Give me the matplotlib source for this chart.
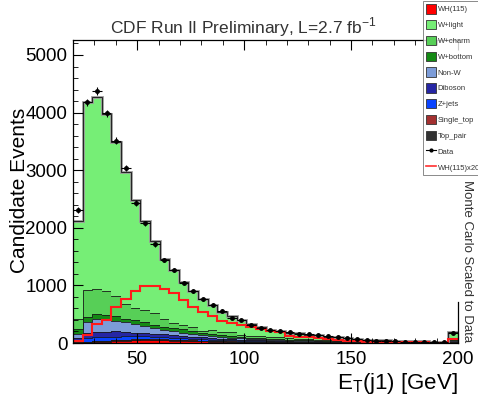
import numpy as np
import matplotlib
matplotlib.use('Agg')
import matplotlib.pyplot as plt
from matplotlib.patches import Patch
from matplotlib.lines import Line2D

plt.rcParams['font.family'] = ['Liberation Sans', 'DejaVu Sans']

# 40 bins of 4.5 GeV from 20 to 200 (last bin holds the overflow)
bin_lo, bin_hi, n_bins = 20.0, 200.0, 40

# per-process event counts, bottom of the stack first
wh = [2, 7, 16, 20, 31, 38, 45, 49, 49, 47, 43, 38, 32, 27, 23, 20, 17, 15, 14, 12,
      10, 9, 6, 5, 5, 4, 3, 3, 2, 2, 1, 1, 1, 1, 1, 0, 0, 0, 0, 3]
top_pair = [5, 9, 11, 12, 13, 13, 13, 13, 12, 12, 11, 10, 9, 9, 8, 7, 7, 6, 5, 5,
            4, 4, 4, 3, 3, 3, 2, 2, 2, 2, 2, 1, 1, 1, 1, 1, 1, 1, 1, 4]
single_top = [4, 8, 9, 9, 9, 8, 8, 7, 7, 6, 5, 5, 4, 4, 4, 3, 3, 3, 2, 2,
              2, 2, 2, 1, 1, 1, 1, 1, 1, 1, 1, 1, 1, 1, 0, 0, 0, 0, 0, 2]
zjets = [40, 55, 60, 60, 58, 55, 50, 47, 44, 40, 36, 33, 30, 27, 25, 22, 20, 17, 15, 13,
         11, 10, 9, 8, 7, 6, 5, 4, 4, 3, 3, 2, 2, 2, 2, 2, 1, 1, 1, 6]
diboson = [30, 90, 90, 95, 100, 75, 60, 55, 50, 45, 38, 35, 33, 30, 28, 25, 22, 19, 17, 15,
           13, 12, 10, 9, 8, 7, 6, 5, 4, 4, 3, 3, 3, 2, 2, 2, 2, 2, 1, 10]
non_w = [75, 195, 235, 225, 170, 170, 155, 130, 95, 70, 67, 60, 50, 35, 35, 30, 25, 20, 20, 17,
         16, 14, 12, 10, 9, 8, 7, 6, 5, 4, 4, 3, 3, 3, 2, 2, 2, 2, 2, 15]
w_bottom = [80, 85, 80, 67, 80, 65, 60, 60, 50, 50, 58, 58, 46, 38, 40, 35, 30, 25, 20, 20,
            17, 18, 15, 12, 12, 11, 11, 10, 8, 6, 5, 5, 4, 4, 3, 3, 3, 3, 2, 20]
w_charm = [180, 480, 445, 413, 350, 245, 225, 210, 210, 145, 87, 75, 70, 46, 56, 50, 60, 40, 35, 35,
           35, 30, 30, 25, 20, 15, 10, 10, 10, 10, 8, 7, 6, 6, 5, 5, 4, 4, 4, 30]
w_light = [1702, 3250, 3325, 3080, 2685, 2305, 1870, 1545, 1259, 1040, 923, 737, 631, 541, 435,
           345, 280, 250, 198, 164, 116, 114, 90, 93, 74, 84, 65, 59, 47, 40,
           33, 29, 24, 20, 19, 15, 15, 12, 11, 96]

data = [2313, 4180, 4380, 3990, 3513, 3038, 2430, 2080, 1716, 1443, 1270, 1049, 904, 760, 667,
        560, 429, 400, 320, 266, 226, 214, 186, 157, 151, 139, 127, 110, 92, 78,
        52, 40, 30, 30, 25, 25, 20, 15, 15, 174]

wh_x20 = [40, 140, 330, 400, 630, 770, 900, 985, 985, 940, 860, 755, 630, 540, 465, 390, 340,
          310, 285, 240, 200, 186, 130, 110, 99, 82, 64, 52, 41, 30,
          25, 20, 18, 15, 12, 10, 10, 8, 8, 64]

stack = [
    ('WH(115)', wh, '#ff0000'),
    ('Top_pair', top_pair, '#333333'),
    ('Single_top', single_top, '#a33030'),
    ('Z+jets', zjets, '#0a44ff'),
    ('Diboson', diboson, '#2626a4'),
    ('Non-W', non_w, '#7c9cd8'),
    ('W+bottom', w_bottom, '#148a14'),
    ('W+charm', w_charm, '#57cf57'),
    ('W+light', w_light, '#76ee76'),
]
legend_order = ['WH(115)', 'W+light', 'W+charm', 'W+bottom', 'Non-W',
                'Diboson', 'Z+jets', 'Single_top', 'Top_pair']

edges = np.linspace(bin_lo, bin_hi, n_bins + 1)
centers = 0.5 * (edges[:-1] + edges[1:])
half_w = 0.5 * (edges[1] - edges[0])

fig = plt.figure(figsize=(4.78, 3.95), dpi=100)
ax = fig.add_axes([0.1527, 0.1316, 0.8055, 0.7671])

base = np.zeros(n_bins)
for name, vals, col in stack:
    vals = np.asarray(vals, dtype=float)
    ax.stairs(base + vals, edges, baseline=base, fill=True, color=col, lw=0)
    ax.stairs(base + vals, edges, color='#1a1a1a', lw=0.6, baseline=None)
    base = base + vals

# outline of full stack
ax.stairs(base, edges, color='#999999', lw=2.0, baseline=None)
ax.stairs(base, edges, color='#222222', lw=0.7, baseline=None)

# signal x20
ax.stairs(wh_x20, edges, color='#ff1a1a', lw=1.5, baseline=None)

# data
data_arr = np.asarray(data, dtype=float)
ax.errorbar(centers, data_arr, yerr=np.sqrt(data_arr), xerr=half_w, fmt='o',
            color='black', ms=2.5, lw=0.8, capsize=0)

ax.set_xlim(bin_lo, bin_hi)
ax.set_ylim(0, 5260)
ax.set_xticks([50, 100, 150, 200])
ax.set_yticks([0, 1000, 2000, 3000, 4000, 5000])
ax.set_xticks(np.arange(20, 201, 10), minor=True)
ax.set_yticks(np.arange(0, 5201, 200), minor=True)
ax.tick_params(axis='both', which='both', direction='in', top=True, right=False,
               labelsize=13.5, pad=4)
ax.tick_params(which='major', length=7, width=0.8)
ax.tick_params(which='minor', length=3.5, width=0.6)
ax.tick_params(axis='x', pad=6)
ax.spines['right'].set_bounds(0, 720)
for sp in ax.spines.values():
    sp.set_linewidth(0.9)

ax.set_ylabel('Candidate Events', fontsize=15)
ax.yaxis.set_label_coords(-0.114, 0.505)
ax.set_xlabel('E$_\\mathregular{T}$(j1) [GeV]', fontsize=16, ha='right', labelpad=2)
ax.xaxis.set_label_coords(1.0, -0.092)

fig.text(0.51, 0.916, 'CDF Run II Preliminary, L=2.7 fb$^\\mathregular{-1}$',
         ha='center', va='baseline', fontsize=12.5, color='#333333')

fig.text(0.977, 0.34, 'Monte Carlo Scaled to Data', rotation=270,
         ha='center', va='center', fontsize=9.5, color='#333333')

# legend
colors = {name: col for name, vals, col in stack}
handles = [Patch(facecolor=colors[n], edgecolor='#333333', lw=0.6) for n in legend_order]
labels = list(legend_order)
handles.append(Line2D([], [], color='black', marker='o', ms=2, lw=0.8))
labels.append('Data')
handles.append(Line2D([], [], color='#ff3030', lw=1.2))
labels.append('WH(115)x20')
leg = fig.legend(handles, labels, loc='upper left', bbox_to_anchor=(0.884, 0.997),
                 fontsize=5.5, frameon=True, fancybox=False, edgecolor='#555555',
                 handlelength=1.3, handleheight=1.5, labelspacing=0.85,
                 handletextpad=0.3, borderpad=0.4, borderaxespad=0)
leg.get_frame().set_linewidth(0.6)
for t in leg.get_texts():
    t.set_color('#333333')

fig.savefig('out.png', dpi=100, facecolor='white')
